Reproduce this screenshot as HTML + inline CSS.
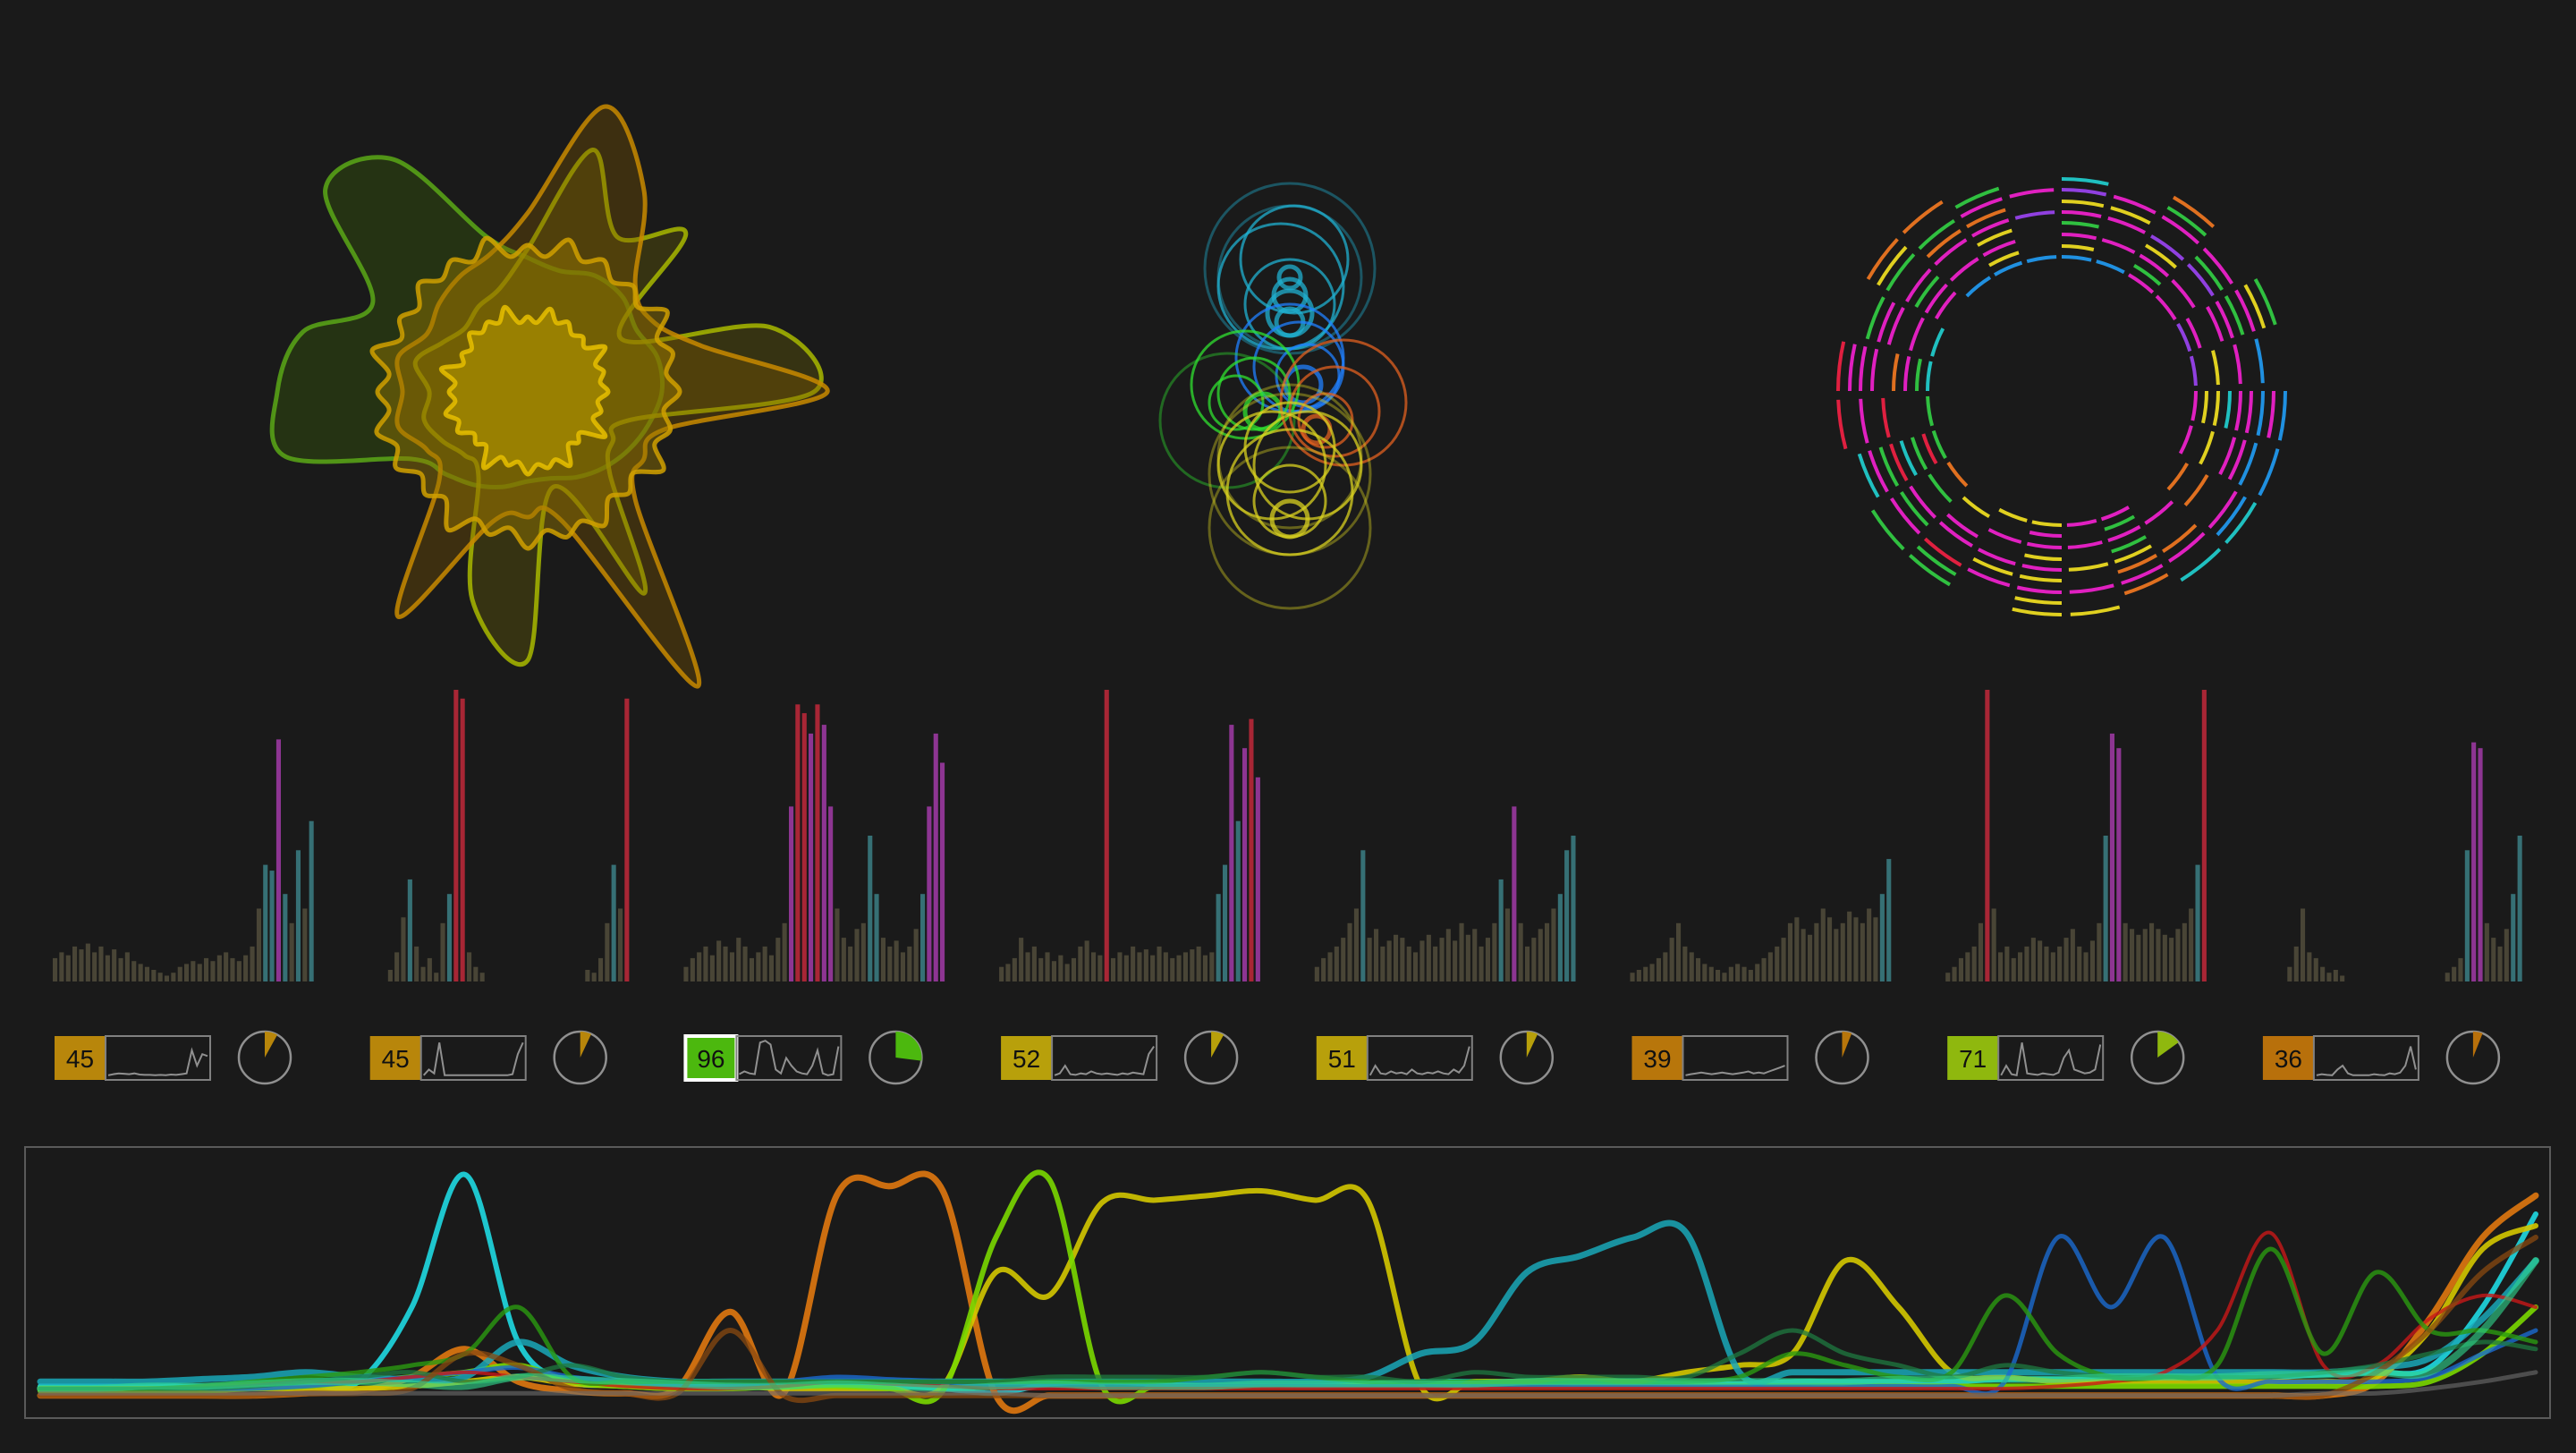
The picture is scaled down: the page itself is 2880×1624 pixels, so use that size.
<!DOCTYPE html>
<html><head><meta charset="utf-8"><style>
html,body{margin:0;padding:0;background:#1a1a1a;}
svg{display:block;}
</style></head><body>
<svg id="root" width="2880" height="1624" viewBox="0 0 2880 1624" xmlns="http://www.w3.org/2000/svg" font-family="Liberation Sans, sans-serif">
<rect width="2880" height="1624" fill="#1a1a1a"/>
<g id="radar"></g>
<g id="bubbles"></g>
<g id="rings"></g>
<g id="bars"></g>
<g id="widgets"></g>
<g id="lines"></g>
</svg>
<script>
const NS='http://www.w3.org/2000/svg';
function mk(tag,attrs,parent){const e=document.createElementNS(NS,tag);for(const k in attrs)e.setAttribute(k,attrs[k]);parent.appendChild(e);return e;}

// ---------- radar data ----------
const radarA=[150,140,130,120,110,100,100,110,120,130,150,280,280,260,200,320,300,180,150,140,150,150,140,150];
const radarB=[335,160,150,170,380,150,140,150,290,140,130,150,140,150,130,140,150,160,200,330,260,170,160,200];
const radarC=[170,165,175,160,172,168,175,165,178,162,170,175,168,180,165,172,170,178,164,176,170,167,180,168];
const radarD=[90,85,100,80,95,88,92,85,98,82,90,95,88,100,85,92,90,98,84,96,90,87,100,88];
const radarE=[320,120,110,130,260,110,300,240,110,100,110,120,110,130,110,100,110,120,160,280,200,250,120,280];
// ---------- bubble data ----------
const bubDx=[0,0,-10,5,0,0,0,0,0,10,20,15,0,-50,-40,-60,-30,-70,50,40,30,60,0,0,0,0,0,0,-20,20,0];
const bubDy=[-150,-140,-130,-160,-110,-100,-120,-90,-140,-40,-30,-20,-50,-20,-10,0,10,20,10,20,30,0,60,80,100,50,110,130,70,70,140];
const bubR=[95,80,70,60,50,25,18,15,12,50,35,20,60,60,40,30,20,75,50,30,15,70,80,90,70,50,40,20,60,60,90];
const bubC=['c','c','c','c','c','c','c','c','c','b','b','b','b','g','g','g','g','g','o','o','o','o','y','y','y','y','y','y','y','y','y'];
// ---------- ring data ----------
const ringPatterns=["bbmmppmm..mmyy.oggcc.bbb","y.g.m.y.o.g.m.y.r.g.m.y.","mmmm.yyy.mmmmm.gg.mmmmm.","g.y.m.c.o.g.y.m.c.o.g.y.","mmppmmmm..yymmmmrr.mmmmp","yy.gg.mm.oo.yy.gg.mm.oo.","pmmmmbbbmmmmmmrmmmmgggmm","c.g.y.m.b.o.y.g.c.m.y.g.","..o.g.bbcc.yy.gg.rr.oo.."];
const ringRadii=[150,162,175,188,200,212,225,237,250];
// ---------- bar data ----------
const barGroups=[
[8,10,9,12,11,13,10,12,9,11,8,10,7,6,5,4,3,2,3,5,6,7,6,8,7,9,10,8,7,9,12,25,40,38,83,30,20,45,25,55],
[0,0,0,4,10,22,35,12,5,8,3,20,30,100,97,10,5,3,0,0,0,0,0,0,0,0,0,0,0,0,0,0,0,4,3,8,20,40,25,97],
[5,8,10,12,9,14,12,10,15,12,8,10,12,9,15,20,60,95,92,85,95,88,60,25,15,12,18,20,50,30,15,12,14,10,12,18,30,60,85,75],
[5,6,8,15,10,12,8,10,7,9,6,8,12,14,10,9,100,8,10,9,12,10,11,9,12,10,8,9,10,11,12,9,10,30,40,88,55,80,90,70],
[5,8,10,12,15,20,25,45,15,18,12,14,16,15,12,10,14,16,12,15,18,14,20,16,18,12,15,20,35,25,60,20,12,15,18,20,25,30,45,50],
[3,4,5,6,8,10,15,20,12,10,8,6,5,4,3,5,6,5,4,6,8,10,12,15,20,22,18,16,20,25,22,18,20,24,22,20,25,22,30,42],
[3,5,8,10,12,20,100,25,10,12,8,10,12,15,14,12,10,12,15,18,12,10,14,20,50,85,80,20,18,16,18,20,18,16,15,18,20,25,40,100],
[0,0,0,0,5,12,25,10,8,5,3,4,2,0,0,0,0,0,0,0,0,0,0,0,0,0,0,0,3,5,8,45,82,80,20,15,12,18,30,50]];
// ---------- widget data ----------
const widgetValues=[45,45,96,52,51,39,71,36];
const widgetColors=['#b8860b','#b8860b','#4cb80e','#b8a00b','#b8a00b','#b8760b','#8fb80e','#b8700b'];
const widgetPie=[0.08,0.07,0.27,0.08,0.07,0.06,0.15,0.06];
const sparks=[
[5,8,10,9,8,10,7,6,6,5,6,5,7,6,8,10,70,30,60,55],
[5,20,10,90,5,5,5,5,5,5,5,5,5,5,5,5,5,8,60,90],
[8,15,10,8,90,95,85,20,10,50,30,15,10,8,30,70,10,5,8,80],
[5,10,30,8,6,10,8,15,10,8,10,8,6,10,8,12,10,8,60,80],
[5,30,10,8,15,10,12,8,20,10,8,12,10,15,10,8,20,12,30,80],
[5,8,10,12,10,8,10,12,10,8,10,12,15,10,12,10,15,20,25,30],
[5,30,8,5,90,10,8,6,10,8,6,12,50,70,20,15,10,12,20,85],
[5,8,6,5,20,30,10,5,5,5,5,8,6,5,10,8,12,30,80,20]];
// ---------- line chart data ----------
const lineNames=['cyan','orange','yellow','lime','teal','blue','red','green','darkgreen','brown','seagreen','gray'];
const lineColors=['#1fd0d8','#e07810','#d4c800','#7ad800','#1aa8b8','#1a6ad0','#c81818','#2a9a10','#1f7a40','#8a4a10','#30d890','#707070'];
const lineWidths=[6,7,6,6,7,5,4,5,5,6,8,5];
const lineOpacity=[0.95,0.9,0.9,0.9,0.85,0.8,0.8,0.8,0.75,0.75,0.6,0.6];
const cyan=[6,6,6,6,6,7,8,40,97,25,8,7,6,6,6,6,6,5,3,7,8,7,6,6,6,7,8,8,8,8,8,7,7,8,8,8,8,9,9,9,10,10,10,11,12,14,40,80];
const orange=[2,2,2,2,2,3,4,10,22,8,4,3,5,38,3,88,92,90,2,2,2,2,2,2,2,2,2,2,2,2,2,2,2,2,2,2,2,2,2,2,2,2,2,2,8,35,70,88];
const yellow=[5,5,5,5,5,5,5,6,8,10,7,6,5,6,5,5,5,6,55,45,85,86,88,90,86,86,6,8,8,10,8,12,15,20,60,40,12,10,8,8,8,8,8,8,10,30,65,75];
const lime=[4,4,4,4,5,6,8,10,12,15,8,6,5,5,6,6,5,4,70,95,6,6,6,6,6,6,6,6,6,6,6,6,6,6,6,6,6,6,6,6,6,6,6,6,6,8,20,40];
const teal=[8,8,8,9,10,12,10,9,10,25,15,10,8,8,8,8,8,8,8,8,8,8,8,8,8,10,20,25,55,62,70,72,12,12,12,12,12,12,12,12,12,12,12,12,14,18,35,60];
const blue=[5,5,5,5,5,6,8,10,12,14,10,8,6,6,8,10,9,8,6,6,6,6,6,6,6,6,6,6,6,6,6,6,6,6,6,6,6,8,70,40,70,10,8,8,8,10,20,30];
const red=[5,5,5,6,7,8,8,10,12,10,8,6,5,5,6,8,7,6,5,5,5,5,5,5,5,5,5,5,5,5,5,5,5,5,5,5,5,5,6,8,12,30,72,15,15,35,45,40];
const green=[5,5,5,6,8,10,12,15,20,40,10,8,8,8,8,8,8,8,8,8,8,8,10,12,10,8,8,8,8,8,8,8,10,20,15,10,12,45,20,10,10,15,65,20,55,30,30,25];
const darkgreen=[5,5,5,5,6,8,10,12,8,10,15,10,8,8,8,8,8,8,8,10,10,10,10,12,10,10,8,12,10,10,10,10,20,30,20,15,10,15,12,10,10,10,10,12,15,20,25,22];
const brown=[2,2,2,2,2,3,3,5,20,15,5,3,3,30,2,2,2,2,2,2,2,2,2,2,2,2,2,2,2,2,2,2,2,2,2,2,2,2,2,2,2,2,2,2,12,30,55,70];
const seagreen=[5,5,6,6,7,8,8,7,6,10,9,8,7,6,6,7,6,5,6,7,6,6,6,7,7,7,7,7,8,8,8,8,8,8,8,9,9,9,9,10,10,10,11,11,12,12,30,60];
const gray=[3,3,3,3,3,3,3,3,3,3,3,3,3,3,3,3,3,3,3,2,2,2,2,2,2,2,2,2,2,2,2,2,2,2,2,2,2,2,2,2,2,2,2,3,3,5,8,12];
const lineSeries=[cyan,orange,yellow,lime,teal,blue,red,green,darkgreen,brown,seagreen,gray];

function smoothClosed(P){
  const n=P.length;let d='M'+P[0][0].toFixed(1)+' '+P[0][1].toFixed(1);
  for(let i=0;i<n;i++){
    const p0=P[(i-1+n)%n],p1=P[i],p2=P[(i+1)%n],p3=P[(i+2)%n];
    d+=' C'+(p1[0]+(p2[0]-p0[0])/6).toFixed(1)+' '+(p1[1]+(p2[1]-p0[1])/6).toFixed(1)+' '+(p2[0]-(p3[0]-p1[0])/6).toFixed(1)+' '+(p2[1]-(p3[1]-p1[1])/6).toFixed(1)+' '+p2[0].toFixed(1)+' '+p2[1].toFixed(1);
  }
  return d+'Z';
}

// ---------- radar ----------
(function(){
  const g=document.getElementById('radar');
  const cx=590,cy=438;
  const polys=[[radarA,'#5aa818','rgba(60,100,10,0.35)',false],[radarE,'#a8b800','rgba(120,110,0,0.3)',false],[radarB,'#c88a00','rgba(130,90,0,0.35)',false],[radarC,'#d0a000','rgba(150,120,0,0.45)',true],[radarD,'#e8c000','rgba(180,150,0,0.6)',true]];
  polys.forEach((p)=>{
    const r=p[0],n=r.length;
    let P=[];
    for(let i=0;i<n;i++){
      const a=i/n*2*Math.PI;
      P.push([cx+r[i]*Math.cos(a),cy+r[i]*Math.sin(a)]);
      if(p[3]){
        const a2=(i+0.5)/n*2*Math.PI;
        const rm=Math.min(r[i],r[(i+1)%n])*0.93;
        P.push([cx+rm*Math.cos(a2),cy+rm*Math.sin(a2)]);
      }
    }
    const e=mk('path',{d:smoothClosed(P),fill:p[2],stroke:p[1],'stroke-width':5,'stroke-linejoin':'round','stroke-opacity':0.85},g);
    
    
  });
})();

// ---------- bubbles ----------
(function(){
  const g=document.getElementById('bubbles');
  const cx=1442,cy=450;
  const col={c:'#20b0d0',b:'#2080ff',g:'#30e030',o:'#e06020',y:'#d8d020'};
  for(let i=0;i<bubR.length;i++){
    const e=mk('circle',{cx:cx+bubDx[i],cy:cy+bubDy[i],r:bubR[i],fill:'none',stroke:col[bubC[i]],'stroke-width':bubR[i]<30?5:3,'stroke-opacity':bubR[i]>70?0.4:0.75},g);
    
    
  }
})();

// ---------- rings ----------
(function(){
  const g=document.getElementById('rings');
  const cx=2305,cy=437;
  const col={m:'#e020c0',b:'#2090e0',g:'#30c040',y:'#e0d020',o:'#e07020',r:'#e02040',p:'#9040e0',c:'#20c0c0'};
  ringPatterns.forEach((pat,ri)=>{
    const R=ringRadii[ri],n=pat.length;
    for(let k=0;k<n;k++){
      const ch=pat[k]; if(ch==='.')continue;
      const a0=k/n*2*Math.PI-Math.PI/2, a1=(k+0.85)/n*2*Math.PI-Math.PI/2;
      const d='M'+(cx+R*Math.cos(a0)).toFixed(1)+' '+(cy+R*Math.sin(a0)).toFixed(1)+' A'+R+' '+R+' 0 0 1 '+(cx+R*Math.cos(a1)).toFixed(1)+' '+(cy+R*Math.sin(a1)).toFixed(1);
      const e=mk('path',{d:d,fill:'none',stroke:col[ch],'stroke-width':4},g);
      
      
    }
  });
})();

// ---------- bars ----------
(function(){
  const g=document.getElementById('bars');
  const base=1097,H=326,gw=294,step=352.7,x0=59;
  barGroups.forEach((vals,gi)=>{
    const bw=gw/vals.length;
    vals.forEach((v,k)=>{
      if(v<=0)return;
      let c='#4f4a3a';
      if(v>=90)c='#b82838'; else if(v>=60)c='#9a38a0'; else if(v>=30)c='#3a7a80';
      const h=v/100*H;
      const e=mk('rect',{x:(x0+gi*step+k*bw).toFixed(1),y:(base-h).toFixed(1),width:(bw*0.7).toFixed(1),height:h.toFixed(1),fill:c,opacity:0.9},g);
      
      
    });
  });
})();

// ---------- widgets ----------
(function(){
  const g=document.getElementById('widgets');
  const step=352.7,y=1158,h=49;
  widgetValues.forEach((v,i)=>{
    const x=61+i*step;
    const w=mk('g',{},g);
    
    
    const b=mk('rect',{x:x,y:y,width:57,height:h,fill:widgetColors[i],stroke:i===2?'#ffffff':'none','stroke-width':4},w);
    
    
    const t=mk('text',{x:x+28.5,y:y+35,'text-anchor':'middle','font-size':28,fill:'#111'},w);
    t.textContent=v;
    
    
    const sb=mk('rect',{x:x+57,y:y,width:117,height:h,fill:'none',stroke:'#808080','stroke-width':2},w);
    
    
    const s=sparks[i];
    const pts=s.map((sv,k)=>(x+60+k*(111/(s.length-1))).toFixed(1)+','+(y+h-3-sv/100*(h-6)).toFixed(1)).join(' ');
    const pl=mk('polyline',{points:pts,fill:'none',stroke:'#909090','stroke-width':2},w);
    
    
    const pcx=x+235,pcy=1182,pr=29;
    const c=mk('circle',{cx:pcx,cy:pcy,r:pr,fill:'none',stroke:'#909090','stroke-width':2.5},w);
    
    
    const a=widgetPie[i]*2*Math.PI;
    const d='M'+pcx+' '+pcy+' L'+pcx+' '+(pcy-pr)+' A'+pr+' '+pr+' 0 '+(a>Math.PI?1:0)+' 1 '+(pcx+pr*Math.sin(a)).toFixed(1)+' '+(pcy-pr*Math.cos(a)).toFixed(1)+' Z';
    const p=mk('path',{d:d,fill:widgetColors[i]},w);
    
    
  });
})();

// ---------- line chart ----------
(function(){
  const g=document.getElementById('lines');
  const fr=mk('rect',{x:28,y:1282,width:2823,height:303,fill:'none',stroke:'#5a5a5a','stroke-width':2},g);
  
  
  const xL=45,xR=2835;
  function xs(i,n){return xL+(xR-xL)*i/(n-1);}
  function ys(v){return 1565-v*2.6;}
  lineSeries.forEach((s,si)=>{
    const P=s.map((v,i)=>[xs(i,s.length),ys(v)]);
    let d='M'+P[0][0].toFixed(1)+' '+P[0][1].toFixed(1);
    for(let i=0;i<P.length-1;i++){
      const p0=P[Math.max(0,i-1)],p1=P[i],p2=P[i+1],p3=P[Math.min(P.length-1,i+2)];
      const c1=[p1[0]+(p2[0]-p0[0])/6,p1[1]+(p2[1]-p0[1])/6];
      const c2=[p2[0]-(p3[0]-p1[0])/6,p2[1]-(p3[1]-p1[1])/6];
      d+=' C'+c1[0].toFixed(1)+' '+c1[1].toFixed(1)+' '+c2[0].toFixed(1)+' '+c2[1].toFixed(1)+' '+p2[0].toFixed(1)+' '+p2[1].toFixed(1);
    }
    const e=mk('path',{d:d,fill:'none',stroke:lineColors[si],'stroke-width':lineWidths[si],'stroke-opacity':lineOpacity[si],'stroke-linejoin':'round','stroke-linecap':'round'},g);
    
    
  });
})();
</script>
</body></html>
